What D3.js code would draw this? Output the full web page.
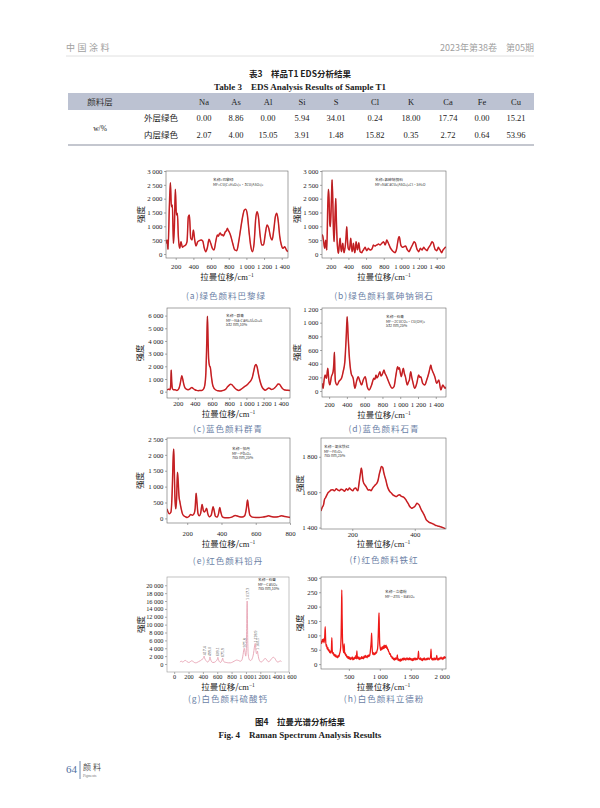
<!DOCTYPE html>
<html>
<head>
<meta charset="utf-8">
<script src="https://d3js.org/d3.v7.min.js"></script>
<style>
  body { margin: 0; background: #fff; }
  svg { display: block; }
  .serif { font-family: "Liberation Serif", "DejaVu Serif", serif; }
  .cjk { font-family: "Noto Sans CJK SC", "Noto Sans", sans-serif; }
  .tick text { font-family: "Liberation Serif", "DejaVu Serif", serif; fill: #222; }
  .tick line { stroke: #555; stroke-width: 0.5; }
</style>
</head>
<body>
<svg width="600" height="808"></svg>
<script>
// ---- table 3 data ----
const elements = ["Na", "As", "Al", "Si", "S", "Cl", "K", "Ca", "Fe", "Cu"];
const layerNames = ["外层绿色", "内层绿色"];
const outerValues = ["0.00", "8.86", "0.00", "5.94", "34.01", "0.24", "18.00", "17.74", "0.00", "15.21"];
const innerValues = ["2.07", "4.00", "15.05", "3.91", "1.48", "15.82", "0.35", "2.72", "0.64", "53.96"];

// ---- spectra: [raman shift cm-1, intensity] ----
const specA = [[90,380],[102,506],[113,169],[128,1711],[140,2578],[151,1711],[162,1771],[174,386],[185,988],[196,2337],[208,1410],[219,1470],[230,627],[245,205],[260,446],[275,241],[294,289],[313,325],[328,446],[343,1349],[355,1410],[370,566],[385,506],[400,868],[415,506],[430,289],[449,446],[468,482],[487,506],[506,470],[521,241],[540,84],[559,241],[577,530],[596,386],[615,205],[634,145],[653,446],[672,687],[683,640],[694,723],[705,760],[717,687],[728,700],[740,651],[751,720],[762,807],[774,840],[785,928],[794,860],[804,807],[823,651],[845,386],[868,145],[891,120],[913,446],[936,928],[959,1374],[977,1590],[993,1615],[1011,1410],[1030,807],[1049,289],[1068,84],[1087,386],[1106,1290],[1121,1530],[1136,1350],[1155,687],[1174,325],[1193,325],[1215,747],[1234,1048],[1253,928],[1272,627],[1291,506],[1310,868],[1328,1350],[1344,1470],[1359,1229],[1378,627],[1396,325],[1415,205],[1434,265],[1453,145],[1471,84]];

const specB = [[101,690],[106,690],[117,506],[132,205],[143,500],[155,145],[166,1700],[174,2340],[181,2000],[189,1100],[196,990],[208,2000],[215,2680],[223,2000],[230,900],[238,446],[249,1400],[257,2010],[264,1200],[275,300],[287,24],[296,300],[306,566],[314,250],[321,84],[328,230],[336,386],[343,200],[351,48],[358,150],[366,325],[374,650],[381,988],[388,600],[396,241],[404,160],[411,145],[418,300],[426,566],[434,300],[442,84],[450,200],[457,386],[464,200],[472,48],[480,200],[487,446],[495,300],[502,145],[510,250],[517,410],[525,250],[532,84],[542,60],[551,48],[560,100],[570,145],[580,200],[589,241],[598,180],[608,120],[617,160],[626,205],[636,170],[645,145],[655,150],[664,169],[674,240],[683,325],[692,300],[702,289],[712,310],[721,325],[730,340],[740,362],[750,340],[759,325],[768,350],[777,386],[787,410],[796,446],[806,400],[815,325],[825,400],[834,506],[844,450],[853,386],[862,320],[872,241],[881,190],[891,145],[900,110],[910,84],[919,60],[928,48],[938,100],[947,205],[957,400],[966,566],[972,620],[977,627],[985,480],[993,325],[1002,270],[1011,241],[1020,250],[1030,265],[1040,280],[1049,289],[1058,220],[1068,145],[1078,110],[1087,84],[1097,140],[1106,205],[1116,270],[1125,325],[1135,390],[1144,446],[1152,420],[1159,386],[1168,270],[1177,169],[1187,120],[1196,84],[1205,140],[1215,205],[1225,170],[1234,145],[1244,200],[1253,241],[1262,200],[1272,169],[1282,140],[1291,120],[1300,180],[1310,241],[1319,280],[1328,325],[1338,390],[1347,446],[1355,420],[1362,386],[1371,270],[1381,169],[1390,140],[1400,120],[1410,180],[1419,241],[1428,190],[1438,145],[1447,90],[1457,48],[1466,110],[1476,169],[1487,200],[1498,241],[1505,230]];

const specC = [[75,150],[90,180],[100,200],[110,150],[118,500],[124,1700],[130,800],[138,250],[150,150],[170,150],[190,100],[210,200],[228,600],[240,1050],[248,1250],[258,1000],[270,600],[285,300],[300,200],[320,150],[340,200],[355,300],[365,320],[380,250],[400,150],[420,100],[440,80],[460,100],[480,100],[500,200],[515,500],[528,1500],[538,3800],[546,5950],[553,4200],[560,2600],[570,2050],[580,1900],[592,1200],[605,600],[620,300],[640,150],[660,80],[680,60],[700,50],[720,80],[740,120],[760,200],[780,380],[800,520],[815,580],[830,550],[850,400],[870,250],[890,150],[910,100],[930,150],[950,250],[970,350],[990,450],[1010,550],[1030,700],[1050,850],[1070,1150],[1085,1600],[1100,2050],[1112,2150],[1125,1950],[1140,1400],[1160,800],[1180,400],[1200,200],[1220,120],[1240,200],[1260,280],[1275,250],[1290,180],[1310,200],[1330,300],[1350,450],[1370,600],[1385,580],[1400,450],[1420,250],[1440,150],[1460,120],[1480,110],[1508,100]];

const specD = [[121,112],[132,39],[143,150],[155,234],[170,185],[185,332],[197,150],[208,88],[226,210],[245,283],[253,400],[260,566],[265,300],[271,137],[290,88],[313,146],[339,185],[358,283],[377,429],[392,780],[403,1088],[414,800],[426,527],[448,259],[471,185],[490,39],[508,137],[527,210],[546,146],[565,88],[584,161],[606,210],[629,63],[651,15],[678,88],[704,185],[716,170],[727,234],[738,190],[749,210],[760,250],[772,283],[783,220],[794,234],[806,270],[817,307],[828,260],[839,234],[862,161],[885,88],[907,39],[930,63],[952,234],[971,356],[980,320],[990,341],[1002,260],[1013,210],[1024,280],[1035,332],[1046,260],[1058,210],[1080,88],[1092,130],[1103,161],[1118,283],[1130,200],[1141,137],[1163,39],[1186,112],[1208,234],[1220,200],[1231,210],[1253,112],[1276,88],[1298,161],[1321,259],[1332,320],[1344,380],[1355,320],[1366,283],[1389,210],[1411,112],[1434,161],[1457,15],[1479,88],[1505,39],[1515,60]];

const specE = [[82,300],[95,150],[105,200],[112,800],[118,1900],[121,2180],[124,1700],[128,700],[133,300],[138,600],[143,1450],[147,1200],[152,700],[158,500],[165,300],[172,150],[180,80],[190,50],[200,30],[210,60],[220,120],[230,100],[240,150],[246,300],[252,790],[257,500],[263,150],[270,80],[278,150],[287,440],[294,250],[300,200],[308,260],[313,320],[320,150],[330,50],[340,100],[346,250],[351,370],[357,250],[365,60],[375,40],[383,150],[390,340],[396,200],[405,50],[420,20],[440,20],[460,40],[480,90],[500,60],[520,40],[535,80],[545,300],[552,580],[558,350],[566,100],[580,40],[600,30],[620,30],[640,40],[660,60],[675,80],[690,60],[710,40],[730,50],[750,80],[770,60],[790,40],[800,30]];

const specF = [[100,1494],[104,1515],[108,1528],[111,1557],[115,1570],[119,1585],[123,1598],[127,1604],[132,1612],[138,1613],[143,1608],[149,1619],[154,1612],[159,1608],[164,1616],[170,1613],[175,1605],[181,1619],[186,1612],[191,1623],[196,1615],[202,1608],[206,1620],[211,1623],[215,1612],[218,1608],[221,1640],[224,1679],[227,1715],[229,1736],[231,1720],[234,1670],[237,1650],[240,1642],[244,1632],[247,1623],[251,1612],[256,1613],[260,1608],[264,1619],[268,1630],[272,1638],[276,1645],[279,1651],[283,1670],[286,1698],[290,1725],[293,1745],[296,1742],[298,1736],[301,1710],[304,1689],[308,1665],[311,1642],[315,1620],[320,1604],[325,1595],[330,1585],[335,1580],[341,1575],[346,1582],[352,1585],[356,1578],[360,1575],[364,1572],[368,1566],[372,1556],[375,1547],[380,1532],[384,1519],[388,1512],[391,1509],[396,1514],[400,1519],[404,1530],[407,1538],[411,1533],[414,1528],[418,1512],[421,1500],[426,1485],[430,1472],[434,1455],[437,1443],[442,1436],[446,1430],[450,1427],[453,1425],[457,1422],[461,1419],[466,1413],[470,1411],[475,1408],[480,1406],[485,1403],[490,1400],[494,1397],[498,1393]];

const specG = [[80,500],[100,700],[120,500],[140,800],[160,900],[180,600],[200,400],[220,500],[240,800],[260,700],[280,400],[300,300],[320,400],[340,600],[360,800],[380,1000],[395,1300],[408,1500],[417,2000],[424,1500],[435,1100],[450,700],[465,500],[480,700],[492,1200],[499,1800],[506,1300],[518,700],[535,400],[555,400],[575,600],[592,900],[603,1300],[609,1700],[616,1200],[630,600],[645,400],[660,700],[670,1200],[676,1500],[683,900],[700,500],[725,400],[755,300],[785,300],[815,500],[845,800],[870,1000],[895,900],[920,700],[940,900],[955,1800],[965,3000],[976,4000],[985,3300],[997,2000],[1005,3500],[1010,9000],[1014,14000],[1017,16000],[1020,13000],[1025,6000],[1032,2500],[1045,1200],[1060,900],[1075,1000],[1090,1500],[1105,2600],[1118,4300],[1129,5200],[1138,3500],[1148,2600],[1154,2800],[1160,3300],[1167,2500],[1180,1300],[1195,700],[1210,500],[1225,600],[1245,1000],[1265,1400],[1280,1300],[1295,900],[1310,600],[1330,700],[1350,1200],[1370,1600],[1385,1700],[1400,1500],[1420,900],[1440,500],[1460,600],[1480,800],[1495,600]];
const peakShiftsG = [417, 499, 609, 676, 976, 1017, 1129, 1160];
const peakLabelsG = ["417.4", "499.0", "609.1", "675.9", "975.8", "1 017.3", "1 128.9", "1 160.5"];

const specH = [[50,80],[60,72],[70,86],[80,78],[90,88],[100,74],[110,95],[118,130],[124,90],[132,62],[140,68],[150,52],[160,58],[170,46],[180,50],[190,40],[200,45],[210,38],[218,50],[225,92],[232,48],[240,36],[250,40],[260,30],[270,34],[280,26],[290,32],[300,24],[310,28],[320,22],[330,30],[340,26],[350,36],[360,44],[368,60],[375,100],[381,180],[386,258],[391,170],[397,90],[404,60],[410,48],[418,40],[425,70],[432,36],[440,40],[448,30],[456,34],[465,24],[475,28],[485,20],[495,26],[505,18],[515,24],[525,16],[535,22],[545,18],[555,25],[565,15],[575,22],[585,17],[595,24],[605,20],[615,30],[622,18],[630,46],[637,20],[645,26],[655,18],[665,24],[675,16],[685,22],[695,18],[705,26],[715,20],[725,24],[735,18],[745,28],[755,22],[765,30],[775,24],[785,28],[795,22],[805,30],[815,26],[825,32],[835,28],[845,40],[855,62],[862,80],[868,108],[874,70],[880,45],[888,34],[896,40],[905,32],[915,38],[925,34],[935,42],[945,38],[955,46],[965,55],[972,80],[978,120],[984,160],[988,178],[993,120],[999,70],[1006,58],[1014,48],[1022,56],[1030,50],[1038,60],[1046,52],[1054,62],[1062,54],[1070,66],[1078,56],[1086,64],[1094,58],[1102,66],[1110,55],[1118,60],[1126,50],[1134,52],[1142,44],[1150,42],[1160,34],[1170,36],[1180,26],[1190,28],[1200,20],[1210,24],[1220,16],[1230,20],[1240,14],[1250,22],[1260,16],[1270,20],[1280,26],[1285,32],[1290,14],[1300,18],[1310,12],[1320,16],[1330,10],[1340,18],[1350,12],[1360,16],[1370,20],[1380,14],[1390,22],[1400,16],[1410,20],[1420,14],[1430,18],[1440,22],[1450,16],[1460,20],[1470,15],[1480,22],[1490,16],[1500,20],[1510,14],[1520,18],[1530,12],[1540,20],[1550,14],[1560,18],[1570,22],[1580,15],[1590,20],[1600,16],[1610,18],[1620,30],[1626,45],[1632,18],[1640,20],[1650,16],[1660,22],[1670,14],[1680,18],[1690,12],[1700,20],[1710,16],[1720,22],[1730,14],[1740,18],[1750,15],[1760,20],[1770,16],[1780,22],[1790,18],[1800,16],[1810,20],[1820,24],[1828,52],[1834,22],[1840,16],[1850,20],[1860,14],[1870,18],[1880,22],[1890,15],[1900,20],[1910,16],[1920,30],[1926,22],[1930,18],[1940,14],[1950,20],[1960,16],[1970,22],[1980,18],[1990,24],[2000,18],[2010,22],[2020,16],[2030,24],[2040,20],[2050,26],[2060,22],[2070,24]];

// ---- tick values ----
const xTicks1400 = [200, 400, 600, 800, 1000, 1200, 1400];
const xTicksE = [200, 400, 600, 800];
const xTicksF = [200, 400];
const xTicksG = [0, 200, 400, 600, 800, 1000, 1200, 1400, 1600];
const xTicksH = [500, 1000, 1500, 2000];
const yTicksAB = [0, 500, 1000, 1500, 2000, 2500, 3000];
const yTicksC = [0, 1000, 2000, 3000, 4000, 5000, 6000];
const yTicksD = [0, 200, 400, 600, 800, 1000, 1200];
const yTicksE = [0, 500, 1000, 1500, 2000, 2500];
const yTicksF = [1400, 1600, 1800];
const yTicksG = [0, 2000, 4000, 6000, 8000, 10000, 12000, 14000, 16000, 18000, 20000];
const yTicksH = [0, 50, 100, 150, 200, 250, 300];

// ---- captions and notes ----
const captions = ["(a)绿色颜料巴黎绿", "(b)绿色颜料氯砷钠铜石", "(c)蓝色颜料群青", "(d)蓝色颜料石青",
                  "(e)红色颜料铅丹", "(f)红色颜料铁红", "(g)白色颜料硫酸钙", "(h)白色颜料立德粉"];
const notes = [
  ["名称=巴黎绿", "MF=Cu(C₂H₃O₂)₂·3Cu(AsO₂)₂"],
  ["名称=氯砷钠铜石", "MF=NaCaCu₅(AsO₄)₄Cl·5H₂O"],
  ["名称—群青", "MF—Na₇CaAl₆Si₆O₂₄S", "532 nm,10%"],
  ["名称—石青", "MF—2CuCO₃·Cu(OH)₂", "532 nm,25%"],
  ["名称—铅丹", "MF—Pb₃O₄", "785 nm,25%"],
  ["名称—氧化铁红", "MF—Fe₂O₃", "785 nm,25%"],
  ["名称—石膏", "MF—CaSO₄", "785 nm,10%"],
  ["名称—立德粉", "MF—ZnS·BaSO₄"]
];

// ---- panel layout ----
const panels = [
  { data: specA, l: 166, r: 288, t: 171, b: 258, xd: [90, 1471],  yd: [-145, 3000],   xt: xTicks1400, yt: yTicksAB, lx: 267, tx: 280, cx: 226, cy: 299, yx: 141, nx: 213, ny: 181, style: "red" },
  { data: specB, l: 322, r: 446, t: 171, b: 258, xd: [101, 1505], yd: [-145, 3000],   xt: xTicks1400, yt: yTicksAB, lx: 267, tx: 280, cx: 384, cy: 299, yx: 297, nx: 375, ny: 181, style: "red" },
  { data: specC, l: 167, r: 290, t: 308, b: 398, xd: [75, 1508],  yd: [-500, 6600],   xt: xTicks1400, yt: yTicksC,  lx: 404, tx: 417, cx: 228, cy: 432, yx: 140, nx: 226, ny: 317, style: "red" },
  { data: specD, l: 322, r: 446, t: 308, b: 397, xd: [120, 1515], yd: [-88, 1215],    xt: xTicks1400, yt: yTicksD,  lx: 405, tx: 418, cx: 384, cy: 432, yx: 297, nx: 386, ny: 318, style: "red" },
  { data: specE, l: 167, r: 290, t: 438, b: 523, xd: [82, 800],   yd: [-145, 2530],   xt: xTicksE,    yt: yTicksE,  lx: 534, tx: 547, cx: 228, cy: 564, yx: 140, nx: 232, ny: 450, style: "red" },
  { data: specF, l: 321, r: 446, t: 438, b: 529, xd: [100, 500],  yd: [1392, 1906],   xt: xTicksF,    yt: yTicksF,  lx: 535, tx: 547, cx: 384, cy: 563, yx: 300, nx: 324, ny: 448, style: "red" },
  { data: specG, l: 167, r: 289, t: 577, b: 672, xd: [-100, 1600], yd: [-2030, 22100], xt: xTicksG,   yt: yTicksG,  lx: 677, tx: 690, cx: 228, cy: 702, yx: 141, nx: 258, ny: 581, style: "pink" },
  { data: specH, l: 321, r: 446, t: 577, b: 669, xd: [50, 2070],  yd: [-17, 303],     xt: xTicksH,    yt: yTicksH,  lx: 677, tx: 690, cx: 384, cy: 702, yx: 300, nx: 385, ny: 593, style: "bright" }
];

const fmt = v => d3.format(",")(v).replace(/,/g, " ");
const svg = d3.select("svg");
svg.append("rect").attr("width", 600).attr("height", 808).attr("fill", "#fff");

// ---- running header ----
svg.append("text").attr("class", "cjk").attr("x", 66).attr("y", 51)
  .attr("font-size", 9).attr("fill", "#a0a0a0").attr("letter-spacing", 2.5).text("中国涂料");
svg.append("text").attr("class", "cjk").attr("x", 534).attr("y", 51).attr("text-anchor", "end")
  .attr("font-size", 9).attr("fill", "#a0a0a0").text("2023年第38卷　第05期");
svg.append("line").attr("x1", 66).attr("x2", 534).attr("y1", 56).attr("y2", 56)
  .attr("stroke", "#d8d8d8").attr("stroke-width", 0.8);

// ---- table 3 ----
svg.append("text").attr("class", "cjk").attr("x", 300).attr("y", 77).attr("text-anchor", "middle")
  .attr("font-size", 8.5).attr("font-weight", "bold").attr("fill", "#222").text("表3　样品T1 EDS分析结果");
svg.append("text").attr("class", "serif").attr("x", 300).attr("y", 90).attr("text-anchor", "middle")
  .attr("font-size", 9).attr("font-weight", "bold").attr("fill", "#222").text("Table 3　EDS Analysis Results of Sample T1");

const colX = [204, 236, 268, 302, 336, 375, 411, 448, 482, 516];
svg.append("rect").attr("x", 68).attr("y", 93).attr("width", 466).attr("height", 17).attr("fill", "#bcc2d2");
svg.append("text").attr("class", "cjk").attr("x", 100).attr("y", 104.5).attr("text-anchor", "middle")
  .attr("font-size", 8.5).attr("fill", "#333").text("颜料层");
svg.selectAll("text.el").data(elements).join("text").attr("class", "el serif")
  .attr("x", (d, i) => colX[i]).attr("y", 104.5).attr("text-anchor", "middle")
  .attr("font-size", 8.5).attr("fill", "#222").text(d => d);

[outerValues, innerValues].forEach((vals, r) => {
  const yy = 121 + r * 17;
  svg.append("text").attr("class", "cjk").attr("x", 161).attr("y", yy).attr("text-anchor", "middle")
    .attr("font-size", 8.5).attr("fill", "#222").text(layerNames[r]);
  svg.selectAll("text.v" + r).data(vals).join("text").attr("class", "v" + r + " serif")
    .attr("x", (d, i) => colX[i]).attr("y", yy).attr("text-anchor", "middle")
    .attr("font-size", 8.5).attr("fill", "#222").text(d => d);
});
svg.append("text").attr("class", "serif").attr("x", 100).attr("y", 131).attr("text-anchor", "middle")
  .attr("font-size", 7.5).attr("fill", "#222").text("w/%");
svg.append("line").attr("x1", 68).attr("x2", 534).attr("y1", 145).attr("y2", 145)
  .attr("stroke", "#b0b4bf").attr("stroke-width", 1.6);

// ---- spectra panels ----
panels.forEach((p, k) => {
  const x = d3.scaleLinear().domain(p.xd).range([p.l, p.r]);
  const y = d3.scaleLinear().domain(p.yd).range([p.b, p.t]);
  const g = svg.append("g");
  const clipId = "clip" + k;
  svg.append("clipPath").attr("id", clipId).append("rect")
    .attr("x", p.l).attr("y", p.t).attr("width", p.r - p.l).attr("height", p.b - p.t);

  const frameColor = p.style === "pink" ? "#999" : "#666";
  const tickFs = p.style === "pink" ? 6.3 : 6.8;

  const xg = g.append("g").attr("transform", `translate(0,${p.b})`)
    .call(d3.axisBottom(x).tickValues(p.xt).tickSize(2).tickSizeOuter(0).tickFormat(fmt));
  xg.select(".domain").remove();
  xg.selectAll("text").attr("font-size", tickFs).attr("y", p.lx - p.b).attr("dy", "0.35em");

  const yg = g.append("g").attr("transform", `translate(${p.l},0)`)
    .call(d3.axisLeft(y).tickValues(p.yt).tickSize(2).tickSizeOuter(0).tickPadding(1.5).tickFormat(fmt));
  yg.select(".domain").remove();
  yg.selectAll("text").attr("font-size", tickFs);

  const line = d3.line().x(d => x(d[0])).y(d => y(d[1])).curve(d3.curveMonotoneX);
  const lg = g.append("g").attr("clip-path", `url(#${clipId})`);
  if (p.style === "red") {
    lg.append("path").datum(p.data).attr("d", line).attr("fill", "none")
      .attr("stroke", "#e0262b").attr("stroke-width", 1.5).attr("stroke-linejoin", "round");
    lg.append("path").datum(p.data).attr("d", line).attr("fill", "none")
      .attr("stroke", "#8a1b1b").attr("stroke-width", 0.45);
  } else if (p.style === "pink") {
    lg.append("path").datum(p.data).attr("d", line).attr("fill", "none")
      .attr("stroke", "#e7a2b2").attr("stroke-width", 0.9);
  } else {
    lg.append("path").datum(p.data).attr("d", line).attr("fill", "none")
      .attr("stroke", "#ee1a18").attr("stroke-width", 1.3).attr("stroke-linejoin", "round");
  }

  g.append("rect").attr("x", p.l).attr("y", p.t).attr("width", p.r - p.l).attr("height", p.b - p.t)
    .attr("fill", "none").attr("stroke", frameColor).attr("stroke-width", 0.6);

  // peak labels on (g)
  if (p.style === "pink") {
    peakShiftsG.forEach((s, i) => {
      const pt = p.data.reduce((a, d) => Math.abs(d[0] - s) < Math.abs(a[0] - s) ? d : a);
      const px = x(pt[0]), py = y(pt[1]) - 1;
      g.append("text").attr("class", "serif").attr("transform", `translate(${px + 1.5},${py}) rotate(-90)`)
        .attr("font-size", 4).attr("fill", "#555").text(peakLabelsG[i]);
    });
  }

  // note block
  notes[k].forEach((s, i) => {
    g.append("text").attr("x", p.nx).attr("y", p.ny + i * 4.6)
      .attr("font-family", "'Noto Sans CJK SC', 'DejaVu Sans', sans-serif")
      .attr("font-size", 3.7).attr("fill", "#333").text(s);
  });

  // axis titles
  const xt = g.append("text").attr("class", "cjk").attr("x", (p.l + p.r) / 2).attr("y", p.tx)
    .attr("text-anchor", "middle").attr("font-size", 8.5).attr("fill", "#222");
  xt.append("tspan").text("拉曼位移/");
  xt.append("tspan").attr("font-family", "'Liberation Serif', serif").text("cm");
  xt.append("tspan").attr("font-size", 5.5).attr("dy", -3.5).attr("font-family", "'Liberation Serif', serif").text("−1");

  g.append("text").attr("class", "cjk")
    .attr("transform", `translate(${p.yx},${(p.t + p.b) / 2}) rotate(-90)`)
    .attr("text-anchor", "middle").attr("dy", "0.35em").attr("font-size", 8.5).attr("fill", "#222").text("强度");

  // caption
  g.append("text").attr("class", "cjk").attr("x", p.cx).attr("y", p.cy).attr("text-anchor", "middle")
    .attr("font-size", 8.5).attr("letter-spacing", 1).attr("fill", "#6b7fa6").text(captions[k]);
});

// ---- figure caption ----
svg.append("text").attr("class", "cjk").attr("x", 300).attr("y", 725).attr("text-anchor", "middle")
  .attr("font-size", 8.5).attr("font-weight", "bold").attr("fill", "#222").text("图4　拉曼光谱分析结果");
svg.append("text").attr("class", "serif").attr("x", 300).attr("y", 738).attr("text-anchor", "middle")
  .attr("font-size", 9).attr("font-weight", "bold").attr("fill", "#222").text("Fig. 4　Raman Spectrum Analysis Results");

// ---- footer ----
svg.append("text").attr("class", "serif").attr("x", 66).attr("y", 773)
  .attr("font-size", 11).attr("fill", "#4f6f9f").text("64");
svg.append("line").attr("x1", 80).attr("x2", 80).attr("y1", 761).attr("y2", 779)
  .attr("stroke", "#4f6f9f").attr("stroke-width", 0.8);
svg.append("text").attr("class", "cjk").attr("x", 83).attr("y", 770)
  .attr("font-size", 8).attr("letter-spacing", 2).attr("fill", "#555").text("颜料");
svg.append("text").attr("class", "serif").attr("x", 83).attr("y", 776.5)
  .attr("font-size", 3.6).attr("fill", "#777").text("Pigments");
</script>
</body>
</html>
